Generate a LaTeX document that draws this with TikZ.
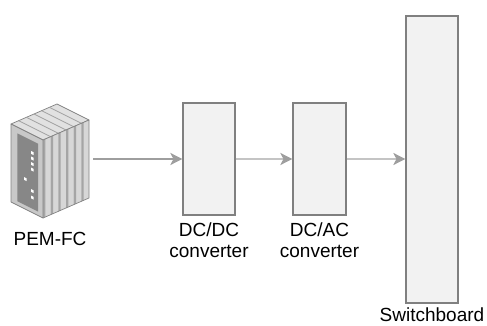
\documentclass[tikz,border=0pt]{standalone}
\usepackage{fontspec}
\setmainfont{Liberation Sans}
\usetikzlibrary{arrows.meta,positioning}

\definecolor{boxfill}{RGB}{242,242,242}
\definecolor{boxedge}{RGB}{128,128,128}
\definecolor{flowgray}{RGB}{158,158,158}
\definecolor{flowpale}{RGB}{196,196,196}
\definecolor{edgegray}{RGB}{130,130,130}
\definecolor{topgray}{RGB}{225,225,225}
\definecolor{ridgegray}{RGB}{160,160,160}
\definecolor{finlight}{RGB}{215,215,215}
\definecolor{findark}{RGB}{165,165,165}
\definecolor{platelight}{RGB}{200,200,200}
\definecolor{paneldark}{RGB}{135,135,135}

\begin{document}
\begin{tikzpicture}[x=1pt,y=-1pt,
  convbox/.style={draw=boxedge, fill=boxfill, line width=1.2pt, minimum width=52pt, minimum height=112pt, inner sep=0pt},
  caption/.style={align=center, font=\fontsize{19}{21}\selectfont, inner sep=0pt},
  flow/.style={draw=flowgray, line width=1.8pt, -{Stealth[length=12pt,width=12pt,inset=3pt,color=flowgray]}},
  flowpale/.style={flow, draw=flowpale},
  led/.style={fill=white}]
\useasboundingbox (0,0) rectangle (487,326);

% fuel cell stack, drawn back to front
\draw[fill=topgray, draw=edgegray, line width=0.7pt, line join=round] (11,124) -- (57,104) -- (89,120) -- (43,140) -- cycle;
\foreach \k in {1,...,5}
  \draw[ridgegray, line width=0.8pt] ({11+46*\k/6},{124-20*\k/6}) -- ++(32,16);
\foreach \k in {0,...,5} {
  \fill[finlight] ({43+46*\k/6},{140-20*\k/6}) -- ++(7.67,-3.33) -- ++(0,78) -- ++(-7.67,3.33) -- cycle;
  \fill[findark] ({43+46*\k/6},{140-20*\k/6}) -- ++(2.4,-1.05) -- ++(0,78) -- ++(-2.4,1.05) -- cycle;
}
\draw[edgegray, line width=0.7pt, line join=round] (43,140) -- (89,120) -- (89,198) -- (43,218);
\draw[fill=platelight, draw=edgegray, line width=0.7pt, line join=round] (11,124) -- (43,140) -- (43,218) -- (11,202) -- cycle;
\fill[paneldark] (17.4,133.4) -- (38.2,143.8) -- (38.2,211.7) -- (17.4,201.3) -- cycle;
\foreach \px/\py in {31/151, 31/156.5, 31/162, 31/167.5, 24/177, 31/189, 31/195.5}
  \fill[led] (\px,\py) -- ++(2.6,1.3) -- ++(0,2.8) -- ++(-2.6,-1.3) -- cycle;
\node[minimum width=78pt, minimum height=114pt, inner sep=0pt] (pemfc) at (50,161) {};

% converters and switchboard
\node[convbox] (dcdc) at (209,159) {};
\node[convbox, minimum width=53pt] (dcac) at (319.5,159) {};
\node[convbox, minimum height=287pt] (swb) at (432,159.5) {};

\node[caption, below=14pt of pemfc] (pemlbl) {PEM-FC};
\node[caption, below=7pt of dcdc] (dcdclbl) {DC/DC\\converter};
\node[caption, below=7pt of dcac] (dcaclbl) {DC/AC\\converter};
\node[caption, below=4pt of swb] (swblbl) {Switchboard};

\draw[flow] ([xshift=4pt]pemfc.east |- dcdc.west) -- (dcdc.west);
\draw[flowpale] (dcdc.east) -- (dcac.west);
\draw[flowpale] (dcac.east) -- (swb.west |- dcac.east);

\end{tikzpicture}
\end{document}
